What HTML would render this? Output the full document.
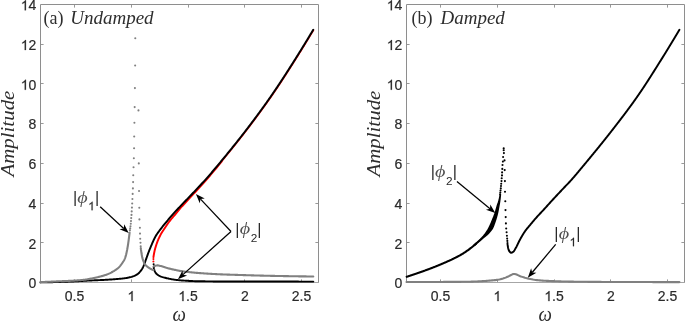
<!DOCTYPE html>
<html><head><meta charset="utf-8"><title>Amplitude vs omega</title>
<style>
html,body{margin:0;padding:0;background:#fff;}
body{width:685px;height:321px;overflow:hidden;font-family:"Liberation Sans",sans-serif;}
svg{display:block;will-change:transform}
.tk{font-family:"Liberation Sans",sans-serif;font-size:14px;fill:#2a2a2a;stroke:#2a2a2a;stroke-width:0.2px}
.cm{font-family:"Liberation Serif",serif;font-size:18px;fill:#2e2e2e}
.cmi{font-family:"Liberation Serif",serif;font-style:italic;font-size:18px;fill:#2e2e2e}
.om{font-size:19px}
.yl{font-size:19.8px}
.phs{font-family:"Liberation Sans",sans-serif;font-size:16.2px;fill:#2a2a2a}
.phsub{font-family:"Liberation Sans",sans-serif;font-size:11.8px;fill:#2a2a2a}
.phi{font-family:"Liberation Serif",serif;font-style:italic;font-size:16.5px;fill:#505050}
</style></head>
<body>
<svg width="685" height="321" viewBox="0 0 685 321">
<rect width="685" height="321" fill="#fff"/>
<g>
<path d="M40.5 282.5 V4.5 H318.5 V282.5" fill="none" stroke="#8e8e8e" stroke-width="1" stroke-linecap="square"/>
<path d="M40.0 282.5 H319.0" fill="none" stroke="#a6a6a6" stroke-width="1"/>
<path d="M74.50 282.00 v-2.60 M74.50 5.00 v2.60" stroke="#999999" stroke-width="1"/>
<text x="64.82" y="301.10" class="tk">0.5</text>
<path d="M131.50 282.00 v-2.60 M131.50 5.00 v2.60" stroke="#999999" stroke-width="1"/>
<path transform="translate(127.41 301.10) scale(0.00684)" d="M763 0 L583 0 L583 -1147 Q518 -1085 412.5 -1023 Q307 -961 223 -930 L223 -1104 Q374 -1175 487 -1276 Q600 -1377 647 -1472 L763 -1472 Z" fill="#2a2a2a" stroke="#2a2a2a" stroke-width="32"/>
<path d="M188.50 282.00 v-2.60 M188.50 5.00 v2.60" stroke="#999999" stroke-width="1"/>
<path transform="translate(178.32 301.10) scale(0.00684)" d="M763 0 L583 0 L583 -1147 Q518 -1085 412.5 -1023 Q307 -961 223 -930 L223 -1104 Q374 -1175 487 -1276 Q600 -1377 647 -1472 L763 -1472 Z" fill="#2a2a2a" stroke="#2a2a2a" stroke-width="32"/><text x="186.10" y="301.10" class="tk">.5</text>
<path d="M244.50 282.00 v-2.60 M244.50 5.00 v2.60" stroke="#999999" stroke-width="1"/>
<text x="240.91" y="301.10" class="tk">2</text>
<path d="M301.50 282.00 v-2.60 M301.50 5.00 v2.60" stroke="#999999" stroke-width="1"/>
<text x="291.82" y="301.10" class="tk">2.5</text>
<text x="28.52" y="288.35" class="tk">0</text>
<path d="M41.00 242.50 h2.60 M318.00 242.50 h-2.60" stroke="#999999" stroke-width="1"/>
<text x="28.52" y="248.64" class="tk">2</text>
<path d="M41.00 203.50 h2.60 M318.00 203.50 h-2.60" stroke="#999999" stroke-width="1"/>
<text x="28.52" y="208.92" class="tk">4</text>
<path d="M41.00 163.50 h2.60 M318.00 163.50 h-2.60" stroke="#999999" stroke-width="1"/>
<text x="28.52" y="169.21" class="tk">6</text>
<path d="M41.00 123.50 h2.60 M318.00 123.50 h-2.60" stroke="#999999" stroke-width="1"/>
<text x="28.52" y="129.49" class="tk">8</text>
<path d="M41.00 83.50 h2.60 M318.00 83.50 h-2.60" stroke="#999999" stroke-width="1"/>
<path transform="translate(20.73 89.78) scale(0.00684)" d="M763 0 L583 0 L583 -1147 Q518 -1085 412.5 -1023 Q307 -961 223 -930 L223 -1104 Q374 -1175 487 -1276 Q600 -1377 647 -1472 L763 -1472 Z" fill="#2a2a2a" stroke="#2a2a2a" stroke-width="32"/><text x="28.52" y="89.78" class="tk">0</text>
<path d="M41.00 44.50 h2.60 M318.00 44.50 h-2.60" stroke="#999999" stroke-width="1"/>
<path transform="translate(20.73 50.06) scale(0.00684)" d="M763 0 L583 0 L583 -1147 Q518 -1085 412.5 -1023 Q307 -961 223 -930 L223 -1104 Q374 -1175 487 -1276 Q600 -1377 647 -1472 L763 -1472 Z" fill="#2a2a2a" stroke="#2a2a2a" stroke-width="32"/><text x="28.52" y="50.06" class="tk">2</text>
<path transform="translate(20.73 10.35) scale(0.00684)" d="M763 0 L583 0 L583 -1147 Q518 -1085 412.5 -1023 Q307 -961 223 -930 L223 -1104 Q374 -1175 487 -1276 Q600 -1377 647 -1472 L763 -1472 Z" fill="#2a2a2a" stroke="#2a2a2a" stroke-width="32"/><text x="28.52" y="10.35" class="tk">4</text>
<path d="M153.45 257.20 L153.53 256.60 L153.62 256.00 L153.71 255.41 L153.81 254.81 L153.91 254.22 L154.02 253.62 L154.13 253.03 L154.25 252.44 L154.37 251.85 L154.49 251.27 L154.63 250.68 L154.77 250.09 L154.92 249.51 L155.07 248.93 L155.23 248.34 L155.40 247.76 L155.57 247.18 L155.75 246.60 L155.93 246.03 L156.11 245.45 L156.30 244.88 L156.49 244.31 L156.68 243.74 L156.88 243.17 L157.08 242.61 L157.29 242.04 L157.51 241.48 L157.73 240.92 L157.96 240.36 L158.19 239.80 L158.43 239.24 L158.67 238.69 L158.92 238.13 L159.18 237.59 L159.43 237.04 L159.70 236.50 L159.96 235.96 L160.23 235.42 L160.51 234.89 L160.79 234.37 L161.09 233.84 L161.39 233.32 L161.70 232.81 L162.02 232.30 L162.34 231.79 L162.67 231.28 L163.00 230.77 L163.34 230.27 L163.67 229.76 L164.01 229.26 L164.35 228.76 L164.68 228.26 L165.01 227.75 L165.34 227.25 L165.68 226.75 L166.01 226.25 L166.35 225.74 L166.69 225.24 L167.03 224.75 L167.37 224.25 L167.71 223.75 L168.06 223.26 L168.41 222.77 L168.77 222.28 L169.12 221.80 L169.48 221.32 L169.85 220.84 L170.22 220.37 L170.59 219.89 L170.97 219.42 L171.35 218.96 L171.73 218.49 L172.12 218.03 L172.51 217.57 L172.90 217.11 L173.29 216.65 L173.69 216.20 L174.09 215.75 L174.50 215.30 L180.99 207.46 L181.66 206.72 L182.33 205.99 L183.01 205.25 L183.69 204.51 L184.37 203.78 L185.05 203.04 L185.74 202.30 L186.42 201.56 L187.10 200.83 L187.78 200.09 L188.47 199.35 L189.15 198.62 L189.83 197.88 L190.51 197.14 L191.20 196.41 L191.88 195.67 L192.56 194.93 L193.25 194.20 L193.93 193.46 L194.61 192.72 L195.29 191.98 L195.97 191.24 L196.65 190.50 L197.33 189.76 L198.01 189.02 L198.69 188.28 L199.36 187.54 L200.04 186.80 L200.72 186.05 L201.40 185.31 L202.08 184.57 L202.75 183.82 L203.42 183.07 L204.10 182.32 L204.77 181.57 L205.43 180.82 L206.10 180.06 L206.76 179.31 L207.42 178.55 L208.08 177.79 L208.73 177.02 L209.39 176.26 L210.04 175.50 L210.69 174.73 L211.34 173.96 L211.99 173.19 L212.64 172.42 L213.28 171.65 L213.93 170.88 L214.57 170.11 L215.21 169.34 L215.85 168.56 L216.49 167.79 L217.13 167.01 L217.77 166.24 L218.41 165.46 L219.05 164.69 L219.68 163.91 L220.32 163.13 L220.96 162.36 L221.59 161.58" fill="none" stroke="#ff0000" stroke-width="1.95" stroke-linecap="round" stroke-linejoin="round"/>
<path d="M215.80 168.52 L216.45 167.75 L217.10 166.98 L217.74 166.21 L218.38 165.44 L219.03 164.67 L219.67 163.90 L220.31 163.13 L220.95 162.35 L221.59 161.58 L222.23 160.81 L222.87 160.03 L223.51 159.26 L224.15 158.48 L224.79 157.71 L225.43 156.93 L226.06 156.15 L226.70 155.38 L227.34 154.60 L227.97 153.82 L228.61 153.04 L229.24 152.26 L229.88 151.48 L230.51 150.70 L231.14 149.92 L231.78 149.14 L232.41 148.36 L233.04 147.58 L233.67 146.80 L234.30 146.01 L234.93 145.23 L235.55 144.44 L236.18 143.66 L236.81 142.87 L237.43 142.09 L238.06 141.30 L238.68 140.51 L239.31 139.73 L239.93 138.94 L240.55 138.15 L241.17 137.36 L241.79 136.57 L242.41 135.78 L243.03 134.99 L243.65 134.19 L244.26 133.40 L244.88 132.61 L245.49 131.81 L246.11 131.02 L246.72 130.22 L247.33 129.43 L247.94 128.63 L248.55 127.83 L249.16 127.03 L249.77 126.24 L250.38 125.44 L250.98 124.64 L251.59 123.84 L252.19 123.03 L252.80 122.23 L253.40 121.43 L254.00 120.63 L254.61 119.82 L255.21 119.02 L255.81 118.21 L256.41 117.41 L257.01 116.60 L257.60 115.79 L258.20 114.98 L258.80 114.17 L259.39 113.36 L259.99 112.55 L260.58 111.74 L261.17 110.93 L261.76 110.12 L262.35 109.30 L262.94 108.49 L263.53 107.67 L264.12 106.86 L264.71 106.04 L265.29 105.22 L265.88 104.41 L266.46 103.59 L267.04 102.77 L267.62 101.95 L268.20 101.13 L268.78 100.31 L269.36 99.49 L269.93 98.66 L270.51 97.84 L271.08 97.02 L271.66 96.19 L272.23 95.37 L272.80 94.54 L273.37 93.71 L273.93 92.88 L274.50 92.05 L275.06 91.22 L275.63 90.39 L276.19 89.56 L276.75 88.73 L277.31 87.89 L277.87 87.06 L278.43 86.22 L278.98 85.39 L279.54 84.55 L280.09 83.71 L280.65 82.87 L281.20 82.04 L281.75 81.20 L282.30 80.35 L282.85 79.51 L283.40 78.67 L283.95 77.83 L284.50 76.99 L285.04 76.14 L285.59 75.30 L286.13 74.45 L286.68 73.61 L287.22 72.76 L287.76 71.92 L288.30 71.07 L288.84 70.23 L289.39 69.38 L289.93 68.53 L290.47 67.68 L291.00 66.84 L291.54 65.99 L292.08 65.14 L292.62 64.29 L293.16 63.44 L293.69 62.60 L294.23 61.75 L294.77 60.90 L295.30 60.05 L295.84 59.20 L296.37 58.35 L296.91 57.50 L297.44 56.65 L297.98 55.80 L298.51 54.95 L299.04 54.10 L299.57 53.25 L300.10 52.39 L300.63 51.54 L301.16 50.69 L301.69 49.83 L302.22 48.98 L302.75 48.12 L303.27 47.27 L303.80 46.41 L304.32 45.56 L304.85 44.70 L305.37 43.84 L305.90 42.99 L306.42 42.13 L306.94 41.27 L307.46 40.41 L307.98 39.55 L308.50 38.69 L309.02 37.84 L309.54 36.98 L310.06 36.11 L310.58 35.25 L311.10 34.39 L311.61 33.53 L312.13 32.67 L312.64 31.81 L313.16 30.94 L313.67 30.08" fill="none" stroke="#ff0000" stroke-width="1.30" stroke-linecap="round" stroke-linejoin="round"/>
<circle cx="153.40" cy="259.10" r="1.05" fill="#ff0000"/><circle cx="153.40" cy="261.50" r="1.05" fill="#ff0000"/>
<path d="M40.50 282.40 L41.50 282.39 L42.51 282.38 L43.51 282.36 L44.52 282.35 L45.52 282.33 L46.52 282.31 L47.53 282.29 L48.53 282.27 L49.54 282.25 L50.54 282.22 L51.54 282.20 L52.55 282.17 L53.55 282.15 L54.55 282.12 L55.56 282.09 L56.56 282.06 L57.56 282.03 L58.57 282.00 L59.57 281.97 L60.57 281.93 L61.58 281.90 L62.58 281.87 L63.58 281.83 L64.59 281.80 L65.59 281.76 L66.59 281.72 L67.60 281.69 L68.60 281.65 L69.60 281.61 L70.61 281.58 L71.61 281.53 L72.61 281.49 L73.61 281.44 L74.62 281.39 L75.62 281.33 L76.62 281.27 L77.62 281.22 L78.63 281.16 L79.63 281.09 L80.63 281.03 L81.63 280.97 L82.63 280.91 L83.64 280.85 L84.64 280.79 L85.64 280.73 L86.64 280.67 L87.65 280.62 L88.65 280.56 L89.65 280.52 L90.65 280.47 L91.66 280.43 L92.66 280.39 L93.66 280.35 L94.67 280.31 L95.67 280.28 L96.67 280.24 L97.68 280.20 L98.68 280.15 L99.68 280.11 L100.68 280.06 L101.69 280.01 L102.69 279.96 L103.69 279.91 L104.70 279.86 L105.70 279.80 L106.70 279.75 L107.70 279.69 L108.70 279.63 L109.71 279.57 L110.71 279.50 L111.71 279.44 L112.71 279.37 L113.71 279.30 L114.71 279.23 L115.72 279.15 L116.72 279.07 L117.72 278.98 L118.72 278.89 L119.72 278.80 L120.72 278.71 L121.72 278.60 L122.72 278.49 L123.71 278.37 L124.71 278.24 L125.70 278.10 L126.69 277.93 L127.68 277.75 L128.68 277.55 L129.66 277.32 L130.63 277.08 L131.59 276.82 L132.54 276.53 L133.50 276.19 L134.45 275.81 L135.38 275.39 L136.28 274.92 L137.12 274.42 L137.91 273.86 L138.67 273.20 L139.40 272.47 L140.08 271.70 L140.71 270.92 L141.29 270.12 L141.84 269.28 L142.36 268.41 L142.85 267.52 L143.30 266.62 L143.71 265.72 L144.09 264.79 L144.44 263.85 L144.78 262.91 L145.11 261.95 L145.44 261.00 L145.77 260.05 L146.11 259.10 L146.44 258.15 L146.78 257.21 L147.11 256.26 L147.44 255.31 L147.78 254.37 L148.13 253.43 L148.48 252.49 L148.84 251.55 L149.21 250.61 L149.58 249.68 L149.95 248.75 L150.33 247.82 L150.72 246.89 L151.11 245.97 L151.50 245.04 L151.90 244.12 L152.29 243.19 L152.69 242.26 L153.10 241.34 L153.52 240.42 L153.94 239.51 L154.38 238.61 L154.83 237.72 L155.30 236.84 L155.79 235.97 L156.30 235.12 L156.85 234.28 L157.41 233.45 L157.99 232.63 L158.58 231.81 L159.19 231.01 L159.80 230.20 L160.41 229.40 L161.02 228.60 L161.63 227.80 L162.24 227.00 L162.86 226.21 L163.48 225.43 L164.11 224.64 L164.74 223.86 L165.38 223.09 L166.02 222.31 L166.66 221.54 L167.31 220.77 L167.95 220.00 L168.61 219.24 L169.26 218.48 L169.92 217.72 L170.58 216.96 L171.24 216.21 L171.91 215.46 L172.57 214.71 L173.24 213.96 L173.91 213.21 L174.58 212.46 L175.25 211.72 L175.93 210.97 L176.61 210.23 L177.29 209.49 L177.97 208.76 L178.65 208.02 L179.33 207.29 L180.02 206.55 L180.71 205.82 L181.40 205.10 L182.09 204.37 L182.79 203.65 L183.49 202.92 L184.18 202.20 L184.88 201.48 L185.58 200.75 L186.27 200.03 L186.97 199.30 L187.66 198.58 L188.36 197.86 L189.05 197.13 L189.75 196.41 L190.44 195.68 L191.14 194.96 L191.83 194.23 L192.52 193.51 L193.21 192.78 L193.91 192.05 L194.60 191.32 L195.29 190.59 L195.97 189.86 L196.66 189.13 L197.35 188.40 L198.04 187.67 L198.73 186.94 L199.42 186.21 L200.11 185.48 L200.79 184.74 L201.47 184.01 L202.16 183.27 L202.84 182.53 L203.52 181.79 L204.19 181.05 L204.87 180.31 L205.54 179.56 L206.20 178.81 L206.87 178.06 L207.53 177.31 L208.20 176.55 L208.86 175.80 L209.52 175.04 L210.17 174.28 L210.83 173.52 L211.48 172.76 L212.14 172.00 L212.79 171.23 L213.44 170.47 L214.09 169.70 L214.74 168.93 L215.38 168.17 L216.03 167.40 L216.67 166.63 L217.32 165.86 L217.96 165.09 L218.60 164.32 L219.24 163.55 L219.89 162.77 L220.53 162.00 L221.17 161.23 L221.81 160.46 L222.45 159.68 L223.09 158.91 L223.73 158.13 L224.36 157.36 L225.00 156.58 L225.64 155.81 L226.28 155.03 L226.91 154.25 L227.55 153.47 L228.18 152.70 L228.82 151.92 L229.45 151.14 L230.08 150.36 L230.72 149.58 L231.35 148.80 L231.98 148.02 L232.61 147.23 L233.24 146.45 L233.87 145.67 L234.50 144.89 L235.12 144.10 L235.75 143.32 L236.38 142.53 L237.00 141.75 L237.63 140.96 L238.25 140.17 L238.87 139.38 L239.50 138.60 L240.12 137.81 L240.74 137.02 L241.36 136.23 L241.98 135.44 L242.59 134.65 L243.21 133.86 L243.83 133.06 L244.44 132.27 L245.06 131.48 L245.67 130.68 L246.28 129.89 L246.89 129.09 L247.50 128.30 L248.11 127.50 L248.72 126.70 L249.33 125.90 L249.94 125.10 L250.54 124.30 L251.15 123.50 L251.75 122.70 L252.36 121.90 L252.96 121.10 L253.56 120.30 L254.17 119.49 L254.77 118.69 L255.37 117.88 L255.97 117.08 L256.56 116.27 L257.16 115.46 L257.76 114.66 L258.35 113.85 L258.95 113.04 L259.54 112.23 L260.14 111.42 L260.73 110.60 L261.32 109.79 L261.91 108.98 L262.50 108.17 L263.09 107.35 L263.67 106.54 L264.26 105.72 L264.84 104.90 L265.43 104.09 L266.01 103.27 L266.59 102.45 L267.17 101.63 L267.75 100.81 L268.33 99.99 L268.91 99.17 L269.48 98.35 L270.06 97.53 L270.63 96.70 L271.20 95.88 L271.77 95.05 L272.34 94.23 L272.91 93.40 L273.48 92.57 L274.04 91.74 L274.61 90.92 L275.17 90.08 L275.73 89.25 L276.30 88.42 L276.85 87.59 L277.41 86.75 L277.97 85.92 L278.53 85.08 L279.08 84.25 L279.64 83.41 L280.19 82.57 L280.74 81.73 L281.29 80.89 L281.84 80.05 L282.39 79.21 L282.94 78.37 L283.49 77.53 L284.03 76.69 L284.58 75.84 L285.12 75.00 L285.67 74.16 L286.21 73.31 L286.76 72.47 L287.30 71.62 L287.84 70.78 L288.38 69.93 L288.92 69.08 L289.46 68.24 L290.00 67.39 L290.54 66.54 L291.08 65.69 L291.62 64.85 L292.15 64.00 L292.69 63.15 L293.23 62.30 L293.77 61.45 L294.30 60.61 L294.84 59.76 L295.37 58.91 L295.91 58.06 L296.44 57.21 L296.98 56.36 L297.51 55.51 L298.04 54.66 L298.57 53.81 L299.10 52.96 L299.64 52.10 L300.16 51.25 L300.69 50.40 L301.22 49.54 L301.75 48.69 L302.28 47.84 L302.80 46.98 L303.33 46.13 L303.85 45.27 L304.38 44.41 L304.90 43.56 L305.43 42.70 L305.95 41.84 L306.47 40.99 L306.99 40.13 L307.51 39.27 L308.03 38.41 L308.55 37.55 L309.07 36.69 L309.59 35.83 L310.11 34.97 L310.62 34.11 L311.14 33.25 L311.66 32.39 L312.17 31.53 L312.69 30.66 L313.20 29.80" fill="none" stroke="#000" stroke-width="1.95" stroke-linecap="round" stroke-linejoin="round" />
<circle cx="153.65" cy="264.30" r="1.05" fill="#000"/>
<path d="M153.70 266.50 L153.78 267.35 L153.91 268.18 L154.08 268.99 L154.27 269.78 L154.54 270.58 L154.88 271.38 L155.28 272.15 L155.72 272.87 L156.19 273.49 L156.73 274.05 L157.37 274.58 L158.08 275.07 L158.83 275.52 L159.60 275.93 L160.35 276.28 L161.10 276.59 L161.88 276.87 L162.67 277.13 L163.48 277.37 L164.29 277.60 L165.11 277.81 L165.93 278.01 L166.74 278.20 L167.55 278.39 L168.36 278.57 L169.18 278.75 L170.00 278.91 L170.82 279.07 L171.64 279.21 L172.46 279.35 L173.29 279.48 L174.11 279.61 L174.93 279.72 L175.76 279.84 L176.59 279.95 L177.42 280.05 L178.25 280.14 L179.08 280.22 L179.91 280.29 L180.74 280.36 L181.57 280.42 L182.40 280.48 L183.23 280.54 L184.06 280.60 L184.89 280.65 L185.73 280.71 L186.56 280.76 L187.39 280.82 L188.22 280.87 L189.06 280.91 L189.89 280.96 L190.72 281.00 L191.56 281.04 L192.39 281.08 L193.22 281.12 L194.06 281.15 L194.89 281.18 L195.73 281.21 L196.56 281.24 L197.39 281.26 L198.23 281.27 L199.06 281.29 L199.89 281.30 L200.73 281.31 L201.56 281.32 L202.39 281.32 L203.23 281.33 L204.06 281.34 L204.89 281.34 L205.73 281.35 L206.56 281.36 L207.40 281.36 L208.23 281.37 L209.06 281.38 L209.90 281.38 L210.73 281.39 L211.56 281.39 L212.40 281.40 L213.23 281.40 L214.07 281.41 L214.90 281.41 L215.73 281.42 L216.57 281.42 L217.40 281.43 L218.24 281.43 L219.07 281.43 L219.90 281.44 L220.74 281.44 L221.57 281.45 L222.41 281.45 L223.24 281.45 L224.07 281.46 L224.91 281.46 L225.74 281.46 L226.58 281.46 L227.41 281.47 L228.24 281.47 L229.08 281.47 L229.91 281.47 L230.75 281.48 L231.58 281.48 L232.41 281.48 L233.25 281.48 L234.08 281.49 L234.92 281.49 L235.75 281.49 L236.58 281.49 L237.42 281.49 L238.25 281.50 L239.09 281.50 L239.92 281.50 L240.75 281.50 L241.59 281.50 L242.42 281.51 L243.25 281.51 L244.09 281.51 L244.92 281.51 L245.76 281.51 L246.59 281.51 L247.42 281.52 L248.26 281.52 L249.09 281.52 L249.93 281.52 L250.76 281.52 L251.59 281.53 L252.43 281.53 L253.26 281.53 L254.10 281.53 L254.93 281.53 L255.76 281.53 L256.60 281.54 L257.43 281.54 L258.26 281.54 L259.10 281.54 L259.93 281.54 L260.77 281.54 L261.60 281.55 L262.43 281.55 L263.27 281.55 L264.10 281.55 L264.94 281.55 L265.77 281.55 L266.60 281.55 L267.44 281.56 L268.27 281.56 L269.10 281.56 L269.94 281.56 L270.77 281.56 L271.61 281.56 L272.44 281.56 L273.27 281.57 L274.11 281.57 L274.94 281.57 L275.78 281.57 L276.61 281.57 L277.44 281.57 L278.28 281.57 L279.11 281.57 L279.95 281.58 L280.78 281.58 L281.61 281.58 L282.45 281.58 L283.28 281.58 L284.11 281.58 L284.95 281.58 L285.78 281.58 L286.62 281.58 L287.45 281.58 L288.28 281.59 L289.12 281.59 L289.95 281.59 L290.79 281.59 L291.62 281.59 L292.45 281.59 L293.29 281.59 L294.12 281.59 L294.95 281.59 L295.79 281.59 L296.62 281.59 L297.46 281.59 L298.29 281.59 L299.12 281.60 L299.96 281.60 L300.79 281.60 L301.63 281.60 L302.46 281.60 L303.29 281.60 L304.13 281.60 L304.96 281.60 L305.80 281.60 L306.63 281.60 L307.46 281.60 L308.30 281.60 L309.13 281.60 L309.96 281.60 L310.80 281.60 L311.63 281.60 L312.47 281.60 L313.30 281.60" fill="none" stroke="#000" stroke-width="1.95" stroke-linecap="round" stroke-linejoin="round" />
<path d="M40.50 282.10 L41.09 282.08 L41.69 282.05 L42.28 282.03 L42.87 282.00 L43.46 281.98 L44.06 281.96 L44.65 281.93 L45.24 281.91 L45.84 281.88 L46.43 281.86 L47.02 281.83 L47.62 281.81 L48.21 281.78 L48.80 281.76 L49.39 281.73 L49.99 281.71 L50.58 281.68 L51.17 281.66 L51.77 281.63 L52.36 281.60 L52.95 281.58 L53.54 281.55 L54.14 281.53 L54.73 281.50 L55.32 281.47 L55.92 281.45 L56.51 281.42 L57.10 281.40 L57.69 281.37 L58.29 281.34 L58.88 281.32 L59.47 281.29 L60.07 281.27 L60.66 281.24 L61.25 281.22 L61.85 281.19 L62.44 281.17 L63.03 281.15 L63.63 281.12 L64.22 281.10 L64.81 281.07 L65.41 281.05 L66.00 281.02 L66.59 281.00 L67.18 280.97 L67.78 280.94 L68.37 280.92 L68.96 280.89 L69.56 280.86 L70.15 280.83 L70.74 280.80 L71.33 280.77 L71.93 280.74 L72.52 280.71 L73.11 280.68 L73.70 280.64 L74.30 280.61 L74.89 280.57 L75.48 280.53 L76.07 280.50 L76.66 280.46 L77.25 280.41 L77.85 280.37 L78.44 280.32 L79.03 280.28 L79.62 280.23 L80.21 280.17 L80.81 280.12 L81.40 280.06 L81.99 280.00 L82.58 279.94 L83.17 279.88 L83.76 279.81 L84.35 279.74 L84.94 279.67 L85.52 279.60 L86.11 279.52 L86.70 279.42 L87.28 279.32 L87.87 279.22 L88.45 279.10 L89.03 278.99 L89.61 278.87 L90.20 278.76 L90.78 278.65 L91.36 278.53 L91.94 278.42 L92.53 278.30 L93.11 278.18 L93.69 278.06 L94.27 277.94 L94.85 277.81 L95.43 277.68 L96.01 277.55 L96.59 277.42 L97.17 277.29 L97.74 277.15 L98.32 277.01 L98.89 276.87 L99.47 276.72 L100.05 276.57 L100.62 276.42 L101.20 276.27 L101.78 276.12 L102.35 275.96 L102.93 275.80 L103.50 275.63 L104.07 275.46 L104.64 275.29 L105.20 275.11 L105.76 274.92 L106.32 274.73 L106.88 274.53 L107.43 274.33 L107.98 274.11 L108.52 273.88 L109.06 273.64 L109.60 273.39 L110.14 273.13 L110.67 272.86 L111.20 272.58 L111.72 272.29 L112.24 272.00 L112.76 271.70 L113.27 271.40 L113.77 271.10 L114.27 270.78 L114.78 270.46 L115.28 270.14 L115.78 269.80 L116.27 269.46 L116.76 269.10 L117.23 268.74 L117.70 268.37 L118.15 267.99 L118.58 267.60 L119.00 267.20 L119.41 266.78 L119.81 266.35 L120.20 265.90 L120.58 265.43 L120.95 264.96 L121.31 264.48 L121.66 263.99 L122.00 263.50 L122.33 263.01 L122.65 262.52 L122.97 262.02 L123.29 261.51 L123.61 261.00 L123.91 260.48 L124.20 259.95 L124.47 259.42 L124.72 258.89 L124.94 258.35 L125.15 257.80 L125.34 257.25 L125.52 256.69 L125.69 256.12 L125.85 255.54 L126.01 254.97 L126.15 254.39 L126.29 253.80 L126.43 253.22 L126.56 252.64 L126.69 252.06 L126.81 251.48 L126.93 250.90 L127.04 250.32 L127.16 249.74 L127.26 249.15 L127.37 248.57 L127.47 247.99 L127.57 247.40 L127.67 246.81 L127.76 246.23 L127.86 245.64 L127.95 245.05 L128.04 244.47 L128.13 243.88 L128.22 243.29 L128.30 242.71 L128.39 242.12 L128.47 241.53 L128.55 240.94 L128.63 240.35 L128.71 239.77 L128.78 239.18 L128.86 238.59 L128.94 238.00 L129.01 237.41 L129.09 236.82 L129.16 236.23 L129.24 235.65 L129.31 235.06 L129.38 234.47 L129.46 233.88 L129.53 233.29 L129.60 232.70" fill="none" stroke="#808080" stroke-width="2.10" stroke-linecap="round" stroke-linejoin="round" />
<circle cx="129.90" cy="230.40" r="1.05" fill="#808080"/><circle cx="130.20" cy="228.40" r="1.05" fill="#808080"/><circle cx="130.50" cy="226.30" r="1.05" fill="#808080"/><circle cx="130.80" cy="223.80" r="1.05" fill="#808080"/><circle cx="131.00" cy="221.10" r="1.05" fill="#808080"/><circle cx="131.20" cy="218.10" r="1.05" fill="#808080"/><circle cx="131.50" cy="214.90" r="1.05" fill="#808080"/><circle cx="131.70" cy="211.40" r="1.05" fill="#808080"/><circle cx="131.95" cy="207.60" r="1.05" fill="#808080"/><circle cx="132.20" cy="203.50" r="1.05" fill="#808080"/><circle cx="132.40" cy="199.00" r="1.05" fill="#808080"/><circle cx="132.66" cy="193.90" r="1.05" fill="#808080"/><circle cx="132.90" cy="188.40" r="1.05" fill="#808080"/><circle cx="133.10" cy="182.10" r="1.05" fill="#808080"/><circle cx="133.25" cy="175.20" r="1.05" fill="#808080"/><circle cx="133.55" cy="167.30" r="1.05" fill="#808080"/><circle cx="133.85" cy="158.30" r="1.05" fill="#808080"/><circle cx="134.08" cy="148.20" r="1.05" fill="#808080"/><circle cx="134.20" cy="136.50" r="1.05" fill="#808080"/><circle cx="134.40" cy="122.80" r="1.05" fill="#808080"/><circle cx="134.67" cy="107.10" r="1.05" fill="#808080"/><circle cx="134.90" cy="88.10" r="1.05" fill="#808080"/><circle cx="135.15" cy="65.50" r="1.05" fill="#808080"/><circle cx="135.27" cy="38.30" r="1.05" fill="#808080"/>
<circle cx="138.46" cy="110.40" r="1.05" fill="#808080"/><circle cx="138.80" cy="163.40" r="1.05" fill="#808080"/><circle cx="139.05" cy="191.00" r="1.05" fill="#808080"/><circle cx="139.30" cy="207.80" r="1.05" fill="#808080"/><circle cx="139.40" cy="219.40" r="1.05" fill="#808080"/><circle cx="139.90" cy="227.70" r="1.05" fill="#808080"/><circle cx="140.00" cy="233.60" r="1.05" fill="#808080"/><circle cx="140.20" cy="238.70" r="1.05" fill="#808080"/><circle cx="140.50" cy="242.80" r="1.05" fill="#808080"/><circle cx="140.70" cy="246.30" r="1.05" fill="#808080"/>
<path d="M140.80 248.10 L140.81 248.24 L140.83 248.37 L140.84 248.51 L140.86 248.64 L140.88 248.78 L140.89 248.91 L140.91 249.05 L140.92 249.19 L140.94 249.32 L140.96 249.46 L140.97 249.59 L140.99 249.73 L141.01 249.86 L141.02 250.00 L141.04 250.13 L141.06 250.27 L141.08 250.40 L141.09 250.54 L141.11 250.68 L141.13 250.81 L141.15 250.95 L141.17 251.08 L141.19 251.22 L141.21 251.35 L141.23 251.49 L141.24 251.62 L141.26 251.76 L141.28 251.89 L141.30 252.03 L141.32 252.16 L141.34 252.30 L141.36 252.43 L141.38 252.57 L141.40 252.70 L141.42 252.84 L141.45 252.97 L141.47 253.11 L141.49 253.24 L141.51 253.38 L141.53 253.51 L141.55 253.65 L141.57 253.78 L141.59 253.92 L141.61 254.05 L141.64 254.19 L141.66 254.32 L141.68 254.46 L141.70 254.60 L141.73 254.73 L141.75 254.86 L141.77 255.00 L141.80 255.13 L141.82 255.27 L141.84 255.40 L141.87 255.54 L141.89 255.67 L141.92 255.81 L141.94 255.94 L141.97 256.07 L142.00 256.21 L142.02 256.34 L142.05 256.48 L142.08 256.61 L142.11 256.74 L142.14 256.87 L142.16 257.01 L142.19 257.14 L142.22 257.27 L142.25 257.40 L142.28 257.54 L142.32 257.67 L142.35 257.80 L142.38 257.93 L142.42 258.06 L142.45 258.19 L142.49 258.33 L142.52 258.46 L142.56 258.59 L142.60 258.72 L142.64 258.85 L142.68 258.98 L142.72 259.11 L142.76 259.25 L142.80 259.38 L142.84 259.51 L142.89 259.64 L142.93 259.77 L142.98 259.90 L143.02 260.03 L143.07 260.16 L143.12 260.29 L143.16 260.41 L143.21 260.54 L143.26 260.67 L143.31 260.80 L143.36 260.93 L143.41 261.05 L143.46 261.18 L143.51 261.31 L143.56 261.43 L143.61 261.56 L143.67 261.68 L143.72 261.81 L143.77 261.93 L143.82 262.06 L143.88 262.18 L143.94 262.31 L143.99 262.43 L144.05 262.56 L144.11 262.68 L144.17 262.81 L144.23 262.93 L144.29 263.06 L144.36 263.18 L144.42 263.30 L144.49 263.43 L144.55 263.55 L144.62 263.67 L144.69 263.79 L144.76 263.91 L144.83 264.02 L144.91 264.14 L144.98 264.25 L145.05 264.36 L145.13 264.47 L145.21 264.58 L145.29 264.68 L145.37 264.79 L145.45 264.89 L145.53 264.99 L145.62 265.09 L145.71 265.19 L145.80 265.29 L145.89 265.39 L145.99 265.49 L146.08 265.58 L146.18 265.68 L146.28 265.78 L146.38 265.87 L146.48 265.96 L146.59 266.06 L146.69 266.15 L146.80 266.24 L146.90 266.33 L147.01 266.42 L147.12 266.51 L147.23 266.60 L147.34 266.68 L147.45 266.77 L147.56 266.85 L147.67 266.94 L147.78 267.02 L147.89 267.10 L148.00 267.18 L148.12 267.26 L148.23 267.34 L148.34 267.42 L148.45 267.50 L148.56 267.58 L148.68 267.65 L148.79 267.72 L148.90 267.80 L149.01 267.87 L149.12 267.94 L149.24 268.02 L149.35 268.09 L149.47 268.16 L149.58 268.23 L149.70 268.30 L149.81 268.37 L149.93 268.44 L150.05 268.51 L150.16 268.58 L150.28 268.64 L150.40 268.71 L150.52 268.78 L150.64 268.84 L150.76 268.91 L150.88 268.97 L151.00 269.03 L151.12 269.10 L151.24 269.16 L151.37 269.22 L151.49 269.28 L151.61 269.34 L151.74 269.40 L151.86 269.46 L151.99 269.52 L152.11 269.57 L152.24 269.63 L152.37 269.69 L152.49 269.74 L152.62 269.79 L152.75 269.85 L152.88 269.90 L153.01 269.95 L153.14 270.00 L153.27 270.05 L153.40 270.10" fill="none" stroke="#808080" stroke-width="2.10" stroke-linecap="round" stroke-linejoin="round" />
<path d="M154.00 266.40 L154.71 265.99 L155.46 265.71 L156.24 265.54 L157.05 265.42 L157.85 265.41 L158.64 265.51 L159.43 265.69 L160.22 265.90 L161.00 266.10 L161.78 266.31 L162.55 266.55 L163.31 266.81 L164.08 267.08 L164.84 267.34 L165.60 267.59 L166.38 267.82 L167.15 268.03 L167.93 268.24 L168.71 268.45 L169.49 268.64 L170.27 268.84 L171.06 269.03 L171.84 269.21 L172.63 269.39 L173.42 269.56 L174.21 269.73 L174.99 269.90 L175.78 270.06 L176.57 270.22 L177.36 270.39 L178.15 270.54 L178.95 270.70 L179.74 270.85 L180.53 270.99 L181.33 271.13 L182.12 271.26 L182.92 271.38 L183.71 271.49 L184.51 271.59 L185.31 271.69 L186.11 271.79 L186.91 271.89 L187.71 271.98 L188.51 272.07 L189.31 272.15 L190.11 272.24 L190.91 272.32 L191.72 272.40 L192.52 272.47 L193.32 272.55 L194.13 272.62 L194.93 272.69 L195.73 272.76 L196.54 272.83 L197.34 272.89 L198.14 272.96 L198.95 273.02 L199.75 273.08 L200.55 273.14 L201.36 273.20 L202.16 273.26 L202.96 273.32 L203.77 273.37 L204.57 273.43 L205.38 273.48 L206.18 273.54 L206.98 273.59 L207.79 273.64 L208.59 273.69 L209.40 273.74 L210.20 273.79 L211.01 273.84 L211.81 273.88 L212.61 273.93 L213.42 273.97 L214.22 274.02 L215.03 274.06 L215.83 274.10 L216.64 274.14 L217.44 274.18 L218.25 274.22 L219.05 274.26 L219.86 274.29 L220.66 274.33 L221.47 274.36 L222.27 274.40 L223.08 274.43 L223.88 274.46 L224.69 274.49 L225.49 274.52 L226.30 274.55 L227.10 274.58 L227.91 274.61 L228.71 274.64 L229.52 274.67 L230.33 274.69 L231.13 274.72 L231.94 274.75 L232.74 274.77 L233.55 274.80 L234.35 274.82 L235.16 274.85 L235.96 274.87 L236.77 274.90 L237.57 274.92 L238.38 274.95 L239.19 274.97 L239.99 275.00 L240.80 275.02 L241.60 275.05 L242.41 275.07 L243.21 275.10 L244.02 275.12 L244.82 275.15 L245.63 275.17 L246.43 275.20 L247.24 275.22 L248.04 275.25 L248.85 275.27 L249.66 275.29 L250.46 275.32 L251.27 275.34 L252.07 275.36 L252.88 275.39 L253.68 275.41 L254.49 275.43 L255.29 275.45 L256.10 275.47 L256.90 275.50 L257.71 275.52 L258.52 275.54 L259.32 275.56 L260.13 275.58 L260.93 275.60 L261.74 275.62 L262.54 275.64 L263.35 275.66 L264.15 275.68 L264.96 275.70 L265.77 275.72 L266.57 275.74 L267.38 275.75 L268.18 275.77 L268.99 275.79 L269.79 275.81 L270.60 275.83 L271.40 275.85 L272.21 275.86 L273.02 275.88 L273.82 275.90 L274.63 275.91 L275.43 275.93 L276.24 275.95 L277.04 275.96 L277.85 275.98 L278.66 276.00 L279.46 276.01 L280.27 276.03 L281.07 276.04 L281.88 276.06 L282.68 276.07 L283.49 276.09 L284.29 276.10 L285.10 276.12 L285.91 276.13 L286.71 276.15 L287.52 276.16 L288.32 276.17 L289.13 276.19 L289.93 276.20 L290.74 276.21 L291.55 276.22 L292.35 276.24 L293.16 276.25 L293.96 276.26 L294.77 276.27 L295.57 276.28 L296.38 276.30 L297.19 276.31 L297.99 276.32 L298.80 276.33 L299.60 276.34 L300.41 276.35 L301.21 276.36 L302.02 276.37 L302.83 276.38 L303.63 276.39 L304.44 276.40 L305.24 276.41 L306.05 276.42 L306.85 276.43 L307.66 276.44 L308.47 276.45 L309.27 276.46 L310.08 276.47 L310.88 276.48 L311.69 276.48 L312.49 276.49 L313.30 276.50" fill="none" stroke="#808080" stroke-width="2.10" stroke-linecap="round" stroke-linejoin="round" />
</g>
<g>
<path d="M406.5 282.5 V4.5 H684.5 V282.5" fill="none" stroke="#8e8e8e" stroke-width="1" stroke-linecap="square"/>
<path d="M406.0 282.5 H685.0" fill="none" stroke="#a6a6a6" stroke-width="1"/>
<path d="M440.50 282.00 v-2.60 M440.50 5.00 v2.60" stroke="#999999" stroke-width="1"/>
<text x="430.82" y="301.10" class="tk">0.5</text>
<path d="M497.50 282.00 v-2.60 M497.50 5.00 v2.60" stroke="#999999" stroke-width="1"/>
<path transform="translate(493.41 301.10) scale(0.00684)" d="M763 0 L583 0 L583 -1147 Q518 -1085 412.5 -1023 Q307 -961 223 -930 L223 -1104 Q374 -1175 487 -1276 Q600 -1377 647 -1472 L763 -1472 Z" fill="#2a2a2a" stroke="#2a2a2a" stroke-width="32"/>
<path d="M554.50 282.00 v-2.60 M554.50 5.00 v2.60" stroke="#999999" stroke-width="1"/>
<path transform="translate(544.32 301.10) scale(0.00684)" d="M763 0 L583 0 L583 -1147 Q518 -1085 412.5 -1023 Q307 -961 223 -930 L223 -1104 Q374 -1175 487 -1276 Q600 -1377 647 -1472 L763 -1472 Z" fill="#2a2a2a" stroke="#2a2a2a" stroke-width="32"/><text x="552.10" y="301.10" class="tk">.5</text>
<path d="M610.50 282.00 v-2.60 M610.50 5.00 v2.60" stroke="#999999" stroke-width="1"/>
<text x="606.91" y="301.10" class="tk">2</text>
<path d="M667.50 282.00 v-2.60 M667.50 5.00 v2.60" stroke="#999999" stroke-width="1"/>
<text x="657.82" y="301.10" class="tk">2.5</text>
<text x="394.52" y="288.35" class="tk">0</text>
<path d="M407.00 242.50 h2.60 M684.00 242.50 h-2.60" stroke="#999999" stroke-width="1"/>
<text x="394.52" y="248.64" class="tk">2</text>
<path d="M407.00 203.50 h2.60 M684.00 203.50 h-2.60" stroke="#999999" stroke-width="1"/>
<text x="394.52" y="208.92" class="tk">4</text>
<path d="M407.00 163.50 h2.60 M684.00 163.50 h-2.60" stroke="#999999" stroke-width="1"/>
<text x="394.52" y="169.21" class="tk">6</text>
<path d="M407.00 123.50 h2.60 M684.00 123.50 h-2.60" stroke="#999999" stroke-width="1"/>
<text x="394.52" y="129.49" class="tk">8</text>
<path d="M407.00 83.50 h2.60 M684.00 83.50 h-2.60" stroke="#999999" stroke-width="1"/>
<path transform="translate(386.73 89.78) scale(0.00684)" d="M763 0 L583 0 L583 -1147 Q518 -1085 412.5 -1023 Q307 -961 223 -930 L223 -1104 Q374 -1175 487 -1276 Q600 -1377 647 -1472 L763 -1472 Z" fill="#2a2a2a" stroke="#2a2a2a" stroke-width="32"/><text x="394.52" y="89.78" class="tk">0</text>
<path d="M407.00 44.50 h2.60 M684.00 44.50 h-2.60" stroke="#999999" stroke-width="1"/>
<path transform="translate(386.73 50.06) scale(0.00684)" d="M763 0 L583 0 L583 -1147 Q518 -1085 412.5 -1023 Q307 -961 223 -930 L223 -1104 Q374 -1175 487 -1276 Q600 -1377 647 -1472 L763 -1472 Z" fill="#2a2a2a" stroke="#2a2a2a" stroke-width="32"/><text x="394.52" y="50.06" class="tk">2</text>
<path transform="translate(386.73 10.35) scale(0.00684)" d="M763 0 L583 0 L583 -1147 Q518 -1085 412.5 -1023 Q307 -961 223 -930 L223 -1104 Q374 -1175 487 -1276 Q600 -1377 647 -1472 L763 -1472 Z" fill="#2a2a2a" stroke="#2a2a2a" stroke-width="32"/><text x="394.52" y="10.35" class="tk">4</text>
<path d="M406.50 282.00 L407.88 282.00 L409.26 282.00 L410.65 282.00 L412.03 282.00 L413.41 282.00 L414.79 282.00 L416.17 281.99 L417.56 281.99 L418.94 281.99 L420.32 281.99 L421.70 281.99 L423.08 281.98 L424.47 281.98 L425.85 281.98 L427.23 281.97 L428.61 281.97 L429.99 281.97 L431.38 281.96 L432.76 281.96 L434.14 281.96 L435.52 281.95 L436.90 281.95 L438.28 281.94 L439.67 281.94 L441.05 281.93 L442.43 281.93 L443.81 281.92 L445.19 281.92 L446.58 281.91 L447.96 281.91 L449.34 281.90 L450.72 281.90 L452.10 281.89 L453.49 281.88 L454.87 281.87 L456.25 281.86 L457.63 281.85 L459.01 281.84 L460.40 281.83 L461.78 281.81 L463.16 281.80 L464.54 281.78 L465.92 281.76 L467.31 281.74 L468.69 281.72 L470.07 281.70 L471.45 281.67 L472.83 281.63 L474.21 281.57 L475.59 281.51 L476.97 281.45 L478.35 281.37 L479.73 281.29 L481.11 281.21 L482.49 281.13 L483.87 281.04 L485.25 280.96 L486.63 280.87 L488.01 280.77 L489.39 280.65 L490.76 280.53 L492.14 280.40 L493.52 280.25 L494.89 280.09 L496.26 279.91 L497.62 279.70 L498.98 279.46 L500.34 279.18 L501.69 278.87 L503.02 278.52 L504.34 278.11 L505.63 277.62 L506.91 277.08 L508.17 276.52 L509.40 275.88 L510.62 275.21 L511.87 274.64 L513.18 274.07 L514.50 273.93 L515.83 274.33 L517.14 274.82 L518.42 275.35 L519.68 275.92 L520.97 276.41 L522.27 276.87 L523.59 277.31 L524.91 277.72 L526.24 278.10 L527.58 278.43 L528.92 278.74 L530.27 279.04 L531.63 279.32 L532.99 279.57 L534.36 279.79 L535.73 279.97 L537.10 280.11 L538.47 280.25 L539.84 280.37 L541.22 280.48 L542.60 280.59 L543.98 280.68 L545.37 280.77 L546.75 280.84 L548.13 280.92 L549.51 280.98 L550.89 281.04 L552.27 281.09 L553.65 281.15 L555.03 281.20 L556.41 281.25 L557.79 281.30 L559.17 281.34 L560.56 281.39 L561.94 281.43 L563.32 281.47 L564.70 281.51 L566.08 281.54 L567.46 281.57 L568.85 281.60 L570.23 281.63 L571.61 281.65 L572.99 281.67 L574.37 281.69 L575.76 281.71 L577.14 281.72 L578.52 281.74 L579.90 281.75 L581.28 281.77 L582.66 281.78 L584.05 281.79 L585.43 281.81 L586.81 281.82 L588.19 281.83 L589.57 281.84 L590.96 281.85 L592.34 281.86 L593.72 281.87 L595.10 281.88 L596.48 281.89 L597.87 281.90 L599.25 281.91 L600.63 281.92 L602.01 281.93 L603.39 281.93 L604.78 281.94 L606.16 281.95 L607.54 281.95 L608.92 281.96 L610.30 281.97 L611.69 281.97 L613.07 281.98 L614.45 281.98 L615.83 281.99 L617.21 281.99 L618.59 282.00 L619.98 282.00 L621.36 282.00 L622.74 282.01 L624.12 282.01 L625.50 282.01 L626.89 282.02 L628.27 282.02 L629.65 282.03 L631.03 282.03 L632.41 282.03 L633.80 282.04 L635.18 282.04 L636.56 282.04 L637.94 282.05 L639.32 282.05 L640.71 282.05 L642.09 282.06 L643.47 282.06 L644.85 282.06 L646.23 282.06 L647.62 282.07 L649.00 282.07 L650.38 282.07 L651.76 282.07 L653.14 282.08 L654.53 282.08 L655.91 282.08 L657.29 282.08 L658.67 282.08 L660.05 282.09 L661.43 282.09 L662.82 282.09 L664.20 282.09 L665.58 282.09 L666.96 282.09 L668.34 282.10 L669.73 282.10 L671.11 282.10 L672.49 282.10 L673.87 282.10 L675.25 282.10 L676.64 282.10 L678.02 282.10 L679.40 282.10" fill="none" stroke="#808080" stroke-width="2.10" stroke-linecap="round" stroke-linejoin="round" />
<path d="M406.70 276.80 L407.07 276.68 L407.44 276.56 L407.81 276.44 L408.18 276.33 L408.55 276.21 L408.92 276.09 L409.29 275.97 L409.66 275.85 L410.03 275.72 L410.40 275.60 L410.77 275.48 L411.14 275.36 L411.51 275.24 L411.88 275.12 L412.25 274.99 L412.61 274.87 L412.98 274.75 L413.35 274.62 L413.72 274.50 L414.09 274.37 L414.46 274.25 L414.82 274.12 L415.19 274.00 L415.56 273.87 L415.93 273.75 L416.29 273.62 L416.66 273.49 L417.03 273.37 L417.40 273.24 L417.76 273.11 L418.13 272.98 L418.50 272.86 L418.86 272.73 L419.23 272.60 L419.60 272.47 L419.96 272.34 L420.33 272.21 L420.70 272.08 L421.06 271.95 L421.43 271.82 L421.79 271.69 L422.16 271.56 L422.52 271.43 L422.89 271.29 L423.25 271.16 L423.62 271.03 L423.98 270.90 L424.35 270.76 L424.71 270.63 L425.08 270.50 L425.44 270.36 L425.81 270.23 L426.17 270.09 L426.54 269.96 L426.90 269.83 L427.27 269.69 L427.63 269.55 L428.00 269.42 L428.36 269.28 L428.72 269.15 L429.09 269.01 L429.45 268.87 L429.82 268.73 L430.18 268.60 L430.54 268.46 L430.91 268.32 L431.27 268.18 L431.63 268.04 L431.99 267.90 L432.36 267.76 L432.72 267.62 L433.08 267.48 L433.44 267.34 L433.81 267.19 L434.17 267.05 L434.53 266.91 L434.89 266.77 L435.25 266.62 L435.61 266.48 L435.97 266.33 L436.33 266.19 L436.70 266.04 L437.06 265.90 L437.42 265.75 L437.77 265.61 L438.13 265.46 L438.49 265.31 L438.85 265.16 L439.21 265.01 L439.57 264.86 L439.93 264.71 L440.29 264.56 L440.64 264.41 L441.00 264.26 L441.36 264.11 L441.72 263.96 L442.07 263.81 L442.43 263.66 L442.79 263.50 L443.15 263.35 L443.50 263.20 L443.86 263.04 L444.22 262.89 L444.58 262.73 L444.93 262.58 L445.29 262.42 L445.65 262.27 L446.00 262.11 L446.36 261.95 L446.71 261.80 L447.07 261.64 L447.43 261.48 L447.78 261.32 L448.14 261.16 L448.49 261.00 L448.84 260.84 L449.20 260.68 L449.55 260.52 L449.91 260.35 L450.26 260.19 L450.61 260.03 L450.96 259.86 L451.32 259.70 L451.67 259.53 L452.02 259.36 L452.37 259.20 L452.72 259.03 L453.07 258.86 L453.42 258.69 L453.77 258.52 L454.12 258.35 L454.47 258.18 L454.81 258.01 L455.16 257.83 L455.51 257.66 L455.85 257.48 L456.20 257.31 L456.54 257.13 L456.89 256.95 L457.23 256.78 L457.58 256.60 L457.92 256.41 L458.26 256.23 L458.61 256.05 L458.95 255.86 L459.29 255.68 L459.63 255.49 L459.97 255.30 L460.31 255.11 L460.65 254.91 L460.99 254.72 L461.32 254.53 L461.66 254.33 L462.00 254.13 L462.33 253.93 L462.66 253.73 L462.99 253.53 L463.32 253.32 L463.65 253.12 L463.98 252.91 L464.31 252.70 L464.63 252.49 L464.96 252.28 L465.28 252.07 L465.60 251.85 L465.92 251.63 L466.24 251.41 L466.56 251.19 L466.88 250.96 L467.20 250.74 L467.52 250.51 L467.83 250.29 L468.15 250.06 L468.46 249.83 L468.77 249.59 L469.09 249.36 L469.40 249.13 L469.71 248.89 L470.02 248.66 L470.33 248.42 L470.63 248.18 L470.94 247.95 L471.25 247.71 L471.55 247.47 L471.85 247.23 L472.16 246.98 L472.46 246.74 L472.76 246.49 L473.06 246.25 L473.36 246.00 L473.65 245.75 L473.95 245.50 L474.25 245.24 L474.54 244.99 L474.83 244.73 L475.13 244.48 L475.42 244.22 L475.71 243.96 L476.00 243.70" fill="none" stroke="#000" stroke-width="2.10" stroke-linecap="round" stroke-linejoin="round" />
<path d="M474.67 246.20 L474.90 246.01 L475.13 245.82 L475.36 245.63 L475.59 245.44 L475.82 245.24 L476.05 245.05 L476.27 244.85 L476.50 244.65 L476.73 244.46 L476.95 244.26 L477.18 244.07 L477.40 243.87 L477.63 243.68 L477.86 243.48 L478.08 243.29 L478.31 243.09 L478.54 242.90 L478.76 242.70 L478.99 242.51 L479.22 242.31 L479.44 242.12 L479.67 241.92 L479.90 241.72 L480.12 241.53 L480.35 241.33 L480.58 241.13 L480.80 240.94 L481.03 240.74 L481.25 240.54 L481.48 240.34 L481.70 240.14 L481.93 239.94 L482.15 239.74 L482.38 239.54 L482.60 239.34 L482.82 239.14 L483.04 238.94 L483.27 238.75 L483.49 238.55 L483.72 238.36 L483.95 238.17 L484.18 237.98 L484.42 237.79 L484.65 237.60 L484.89 237.41 L485.13 237.22 L485.37 237.03 L485.61 236.84 L485.85 236.65 L486.09 236.45 L486.33 236.26 L486.57 236.06 L486.80 235.86 L487.04 235.66 L487.28 235.45 L487.51 235.25 L487.75 235.04 L487.98 234.82 L488.20 234.60 L488.43 234.38 L488.65 234.16 L488.86 233.93 L489.08 233.71 L489.29 233.49 L489.50 233.26 L489.72 233.04 L489.93 232.81 L490.14 232.58 L490.36 232.34 L490.57 232.10 L490.78 231.86 L490.98 231.62 L491.19 231.37 L491.39 231.12 L491.59 230.87 L491.79 230.61 L491.98 230.35 L492.17 230.09 L492.35 229.82 L492.53 229.55 L492.70 229.27 L492.86 228.99 L493.02 228.70 L493.17 228.41 L493.32 228.12 L493.46 227.82 L493.60 227.53 L493.73 227.23 L493.85 226.94 L493.98 226.64 L494.09 226.35 L494.21 226.06 L494.32 225.76 L494.43 225.47 L494.54 225.18 L494.64 224.89 L494.74 224.60 L494.84 224.32 L494.94 224.04 L495.04 223.75 L495.14 223.48 L495.24 223.20 L495.34 222.92 L495.44 222.63 L495.54 222.35 L495.64 222.07 L495.73 221.78 L495.83 221.50 L495.93 221.21 L496.02 220.93 L496.12 220.64 L496.21 220.35 L496.30 220.06 L496.40 219.77 L496.49 219.48 L496.58 219.20 L496.67 218.90 L496.76 218.61 L496.85 218.32 L496.93 218.03 L497.02 217.74 L497.10 217.45 L497.19 217.15 L497.27 216.86 L497.35 216.56 L497.43 216.27 L497.51 215.98 L497.59 215.68 L497.67 215.38 L497.75 215.09 L497.82 214.79 L497.90 214.49 L497.97 214.20 L498.04 213.90 L498.11 213.60 L498.18 213.30 L498.25 213.00 L498.31 212.71 L498.38 212.41 L498.44 212.11 L498.50 211.81 L498.56 211.52 L498.62 211.22 L498.68 210.92 L498.74 210.63 L498.79 210.33 L498.85 210.04 L498.91 209.74 L498.96 209.45 L499.02 209.15 L499.07 208.86 L499.12 208.56 L499.18 208.27 L499.23 207.98 L499.28 207.69 L499.33 207.40 L499.39 207.10 L499.44 206.81 L499.49 206.52 L499.54 206.23 L499.60 205.94 L499.65 205.65 L499.70 205.37 L499.76 205.08 L499.81 204.80 L499.86 204.51 L499.91 204.22 L499.97 203.93 L500.02 203.63 L500.07 203.33 L500.12 203.02 L500.17 202.72 L500.22 202.41 L500.27 202.10 L500.32 201.79 L500.36 201.48 L500.40 201.19 L500.44 200.89 L500.48 200.59 L500.52 200.30 L500.56 200.00 L500.60 199.70 L500.64 199.40 L500.68 199.10 L500.72 198.80 L500.75 198.50 L500.79 198.20 L500.82 197.90 L500.86 197.60 L500.89 197.30 L500.92 197.00 L500.95 196.70 L500.98 196.40 L501.01 196.09 L501.04 195.79 L501.07 195.49 L501.10 195.19 L501.12 194.88 L501.15 194.58 L499.45 194.42 L499.42 194.71 L499.38 195.00 L499.35 195.29 L499.30 195.58 L499.26 195.87 L499.21 196.16 L499.16 196.45 L499.11 196.74 L499.06 197.03 L499.00 197.32 L498.95 197.61 L498.89 197.89 L498.82 198.18 L498.76 198.47 L498.70 198.75 L498.63 199.04 L498.56 199.33 L498.49 199.61 L498.42 199.90 L498.35 200.18 L498.28 200.47 L498.21 200.76 L498.13 201.04 L498.06 201.32 L497.98 201.59 L497.90 201.86 L497.81 202.13 L497.71 202.40 L497.61 202.67 L497.51 202.94 L497.40 203.22 L497.30 203.50 L497.19 203.78 L497.09 204.07 L496.99 204.36 L496.89 204.65 L496.80 204.95 L496.71 205.23 L496.62 205.52 L496.53 205.81 L496.45 206.10 L496.36 206.39 L496.28 206.68 L496.20 206.97 L496.11 207.26 L496.03 207.54 L495.95 207.83 L495.87 208.12 L495.79 208.40 L495.71 208.69 L495.63 208.98 L495.55 209.26 L495.47 209.55 L495.39 209.83 L495.31 210.11 L495.23 210.39 L495.15 210.68 L495.06 210.96 L494.98 211.24 L494.90 211.51 L494.81 211.79 L494.73 212.07 L494.64 212.34 L494.55 212.62 L494.46 212.89 L494.37 213.16 L494.28 213.44 L494.18 213.71 L494.09 213.98 L493.99 214.25 L493.89 214.52 L493.79 214.79 L493.69 215.07 L493.59 215.34 L493.49 215.61 L493.38 215.88 L493.28 216.15 L493.17 216.42 L493.06 216.69 L492.95 216.96 L492.84 217.24 L492.74 217.51 L492.62 217.78 L492.51 218.05 L492.40 218.32 L492.29 218.59 L492.18 218.86 L492.06 219.13 L491.95 219.41 L491.84 219.68 L491.72 219.95 L491.61 220.22 L491.50 220.49 L491.38 220.77 L491.27 221.04 L491.16 221.31 L491.04 221.59 L490.93 221.86 L490.82 222.14 L490.70 222.42 L490.59 222.69 L490.48 222.97 L490.36 223.24 L490.25 223.51 L490.14 223.78 L490.03 224.04 L489.91 224.30 L489.80 224.56 L489.69 224.81 L489.57 225.07 L489.46 225.31 L489.34 225.56 L489.23 225.80 L489.11 226.04 L488.99 226.27 L488.87 226.50 L488.75 226.73 L488.63 226.96 L488.51 227.20 L488.38 227.44 L488.25 227.68 L488.13 227.92 L488.00 228.16 L487.86 228.40 L487.73 228.65 L487.59 228.89 L487.46 229.14 L487.32 229.39 L487.17 229.63 L487.03 229.88 L486.89 230.13 L486.74 230.37 L486.59 230.62 L486.43 230.86 L486.28 231.11 L486.12 231.35 L485.96 231.59 L485.81 231.82 L485.65 232.05 L485.49 232.27 L485.33 232.50 L485.17 232.73 L485.01 232.96 L484.84 233.19 L484.67 233.41 L484.50 233.64 L484.32 233.87 L484.14 234.10 L483.96 234.33 L483.78 234.56 L483.59 234.79 L483.40 235.01 L483.21 235.24 L483.02 235.46 L482.83 235.69 L482.63 235.91 L482.43 236.13 L482.23 236.36 L482.03 236.58 L481.82 236.79 L481.62 237.01 L481.41 237.23 L481.20 237.44 L480.99 237.65 L480.78 237.86 L480.57 238.06 L480.36 238.27 L480.15 238.48 L479.94 238.68 L479.73 238.89 L479.52 239.09 L479.30 239.29 L479.09 239.50 L478.88 239.70 L478.66 239.90 L478.44 240.10 L478.23 240.30 L478.01 240.50 L477.79 240.70 L477.57 240.90 L477.35 241.10 L477.13 241.30 L476.91 241.50 L476.69 241.70 L476.47 241.89 L476.24 242.09 L476.02 242.29 L475.80 242.48 L475.57 242.68 L475.35 242.87 L475.13 243.07 L474.91 243.26 L474.68 243.45 L474.46 243.64 L474.23 243.83 L474.01 244.02 L473.78 244.21 L473.55 244.40 L473.33 244.60 Z" fill="#000"/>
<circle cx="500.10" cy="194.30" r="1.05" fill="#000"/><circle cx="500.30" cy="192.50" r="1.05" fill="#000"/><circle cx="500.50" cy="190.50" r="1.05" fill="#000"/><circle cx="500.80" cy="188.40" r="1.05" fill="#000"/><circle cx="501.00" cy="186.00" r="1.05" fill="#000"/><circle cx="501.20" cy="183.70" r="1.05" fill="#000"/><circle cx="501.50" cy="181.10" r="1.05" fill="#000"/><circle cx="501.70" cy="178.30" r="1.05" fill="#000"/><circle cx="502.00" cy="175.40" r="1.05" fill="#000"/><circle cx="502.10" cy="172.40" r="1.05" fill="#000"/><circle cx="502.30" cy="168.90" r="1.05" fill="#000"/><circle cx="502.50" cy="165.00" r="1.05" fill="#000"/><circle cx="502.90" cy="161.60" r="1.05" fill="#000"/><circle cx="503.10" cy="157.00" r="1.05" fill="#000"/><circle cx="503.90" cy="153.10" r="1.05" fill="#000"/><circle cx="503.70" cy="150.30" r="1.05" fill="#000"/><circle cx="503.70" cy="148.40" r="1.05" fill="#000"/>
<circle cx="504.50" cy="160.40" r="1.05" fill="#000"/><circle cx="504.70" cy="170.10" r="1.05" fill="#000"/><circle cx="504.90" cy="181.10" r="1.05" fill="#000"/><circle cx="505.00" cy="191.70" r="1.05" fill="#000"/><circle cx="505.30" cy="201.20" r="1.05" fill="#000"/><circle cx="505.50" cy="210.10" r="1.05" fill="#000"/><circle cx="505.70" cy="217.10" r="1.05" fill="#000"/><circle cx="505.90" cy="223.40" r="1.05" fill="#000"/><circle cx="506.20" cy="228.50" r="1.05" fill="#000"/><circle cx="506.60" cy="232.30" r="1.05" fill="#000"/><circle cx="506.90" cy="235.80" r="1.05" fill="#000"/><circle cx="507.15" cy="238.60" r="1.05" fill="#000"/><circle cx="507.35" cy="240.90" r="1.05" fill="#000"/>
<path d="M507.50 242.90 L507.53 243.64 L507.58 244.38 L507.67 245.10 L507.77 245.83 L507.89 246.55 L508.02 247.26 L508.15 247.97 L508.32 248.70 L508.53 249.43 L508.78 250.14 L509.07 250.79 L509.42 251.38 L509.91 252.01 L510.51 252.54 L511.13 252.75 L511.81 252.59 L512.52 252.25 L513.15 251.84 L513.65 251.40 L514.10 250.85 L514.51 250.22 L514.89 249.56 L515.26 248.89 L515.63 248.24 L516.00 247.62 L516.35 246.98 L516.68 246.33 L517.01 245.68 L517.33 245.02 L517.65 244.36 L517.96 243.70 L518.28 243.04 L518.59 242.38 L518.91 241.72 L519.24 241.06 L519.57 240.41 L519.92 239.77 L520.27 239.13 L520.62 238.49 L520.98 237.85 L521.34 237.22 L521.70 236.58 L522.07 235.95 L522.44 235.31 L522.82 234.69 L523.20 234.06 L523.58 233.44 L523.98 232.83 L524.38 232.22 L524.78 231.62 L525.20 231.02 L525.62 230.43 L526.06 229.85 L526.50 229.27 L526.96 228.70 L527.42 228.13 L527.89 227.57 L528.36 227.01 L528.83 226.45 L529.31 225.89 L529.78 225.33 L530.25 224.77 L530.72 224.21 L531.19 223.65 L531.66 223.09 L532.12 222.53 L532.59 221.97 L533.06 221.41 L533.53 220.85 L534.01 220.30 L534.48 219.74 L534.96 219.19 L535.44 218.64 L535.92 218.09 L536.40 217.54 L536.89 217.00 L537.38 216.46 L537.87 215.92 L538.37 215.38 L538.86 214.85 L539.36 214.31 L539.86 213.78 L540.36 213.24 L540.86 212.71 L541.36 212.18 L541.86 211.64 L542.36 211.11 L542.85 210.58 L543.35 210.04 L543.85 209.51 L544.34 208.97 L544.84 208.43 L545.33 207.89 L545.82 207.35 L546.31 206.81 L546.80 206.27 L547.29 205.73 L547.78 205.19 L548.27 204.65 L548.76 204.10 L549.25 203.56 L549.74 203.02 L550.23 202.48 L550.72 201.94 L551.21 201.40 L551.70 200.86 L552.20 200.32 L552.69 199.78 L553.18 199.24 L553.68 198.71 L554.18 198.17 L554.67 197.63 L555.17 197.10 L555.67 196.57 L556.17 196.03 L556.67 195.50 L557.16 194.97 L557.66 194.43 L558.16 193.90 L558.66 193.37 L559.17 192.84 L559.67 192.31 L560.17 191.77 L560.67 191.24 L561.17 190.71 L561.67 190.18 L562.17 189.65 L562.67 189.12 L563.17 188.59 L563.68 188.06 L564.18 187.53 L564.69 187.00 L565.20 186.48 L565.70 185.95 L566.21 185.42 L566.71 184.90 L567.22 184.37 L567.73 183.84 L568.23 183.31 L568.73 182.78 L569.23 182.25 L569.73 181.72 L570.23 181.18 L570.72 180.64 L571.21 180.10 L571.69 179.56 L572.18 179.01 L572.66 178.47 L573.14 177.92 L573.62 177.37 L574.10 176.81 L574.58 176.26 L575.05 175.71 L575.52 175.15 L576.00 174.59 L576.47 174.03 L576.94 173.47 L577.41 172.91 L577.88 172.35 L578.34 171.79 L578.81 171.23 L579.28 170.67 L579.75 170.11 L580.21 169.55 L580.68 168.98 L581.15 168.42 L581.61 167.86 L582.08 167.30 L582.55 166.74 L583.02 166.18 L583.48 165.62 L583.95 165.06 L584.42 164.50 L584.88 163.93 L585.35 163.37 L585.82 162.81 L586.28 162.25 L586.75 161.69 L587.22 161.12 L587.68 160.56 L588.15 160.00 L588.61 159.44 L589.08 158.87 L589.54 158.31 L590.01 157.75 L590.47 157.18 L590.94 156.62 L591.40 156.06 L591.87 155.49 L592.33 154.93 L592.80 154.36 L593.26 153.80 L593.72 153.23 L594.19 152.67 L594.65 152.10 L595.11 151.54 L595.57 150.97 L596.04 150.41 L596.50 149.84 L596.96 149.27 L597.42 148.71 L597.88 148.14 L598.34 147.57 L598.80 147.01 L599.26 146.44 L599.72 145.87 L600.18 145.30 L600.64 144.74 L601.10 144.17 L601.56 143.60 L602.02 143.03 L602.47 142.46 L602.93 141.89 L603.39 141.32 L603.84 140.75 L604.30 140.18 L604.76 139.61 L605.21 139.04 L605.67 138.47 L606.12 137.90 L606.58 137.33 L607.03 136.75 L607.48 136.18 L607.94 135.61 L608.39 135.04 L608.84 134.46 L609.29 133.89 L609.74 133.32 L610.19 132.74 L610.64 132.17 L611.09 131.59 L611.54 131.02 L611.99 130.44 L612.44 129.86 L612.89 129.29 L613.33 128.71 L613.78 128.13 L614.23 127.56 L614.68 126.98 L615.12 126.40 L615.57 125.83 L616.02 125.25 L616.46 124.67 L616.91 124.09 L617.36 123.51 L617.80 122.94 L618.25 122.36 L618.70 121.78 L619.14 121.20 L619.59 120.62 L620.03 120.04 L620.48 119.46 L620.92 118.88 L621.36 118.30 L621.81 117.72 L622.25 117.13 L622.69 116.55 L623.13 115.97 L623.58 115.39 L624.02 114.81 L624.46 114.22 L624.90 113.64 L625.34 113.06 L625.78 112.47 L626.21 111.89 L626.65 111.30 L627.09 110.72 L627.53 110.13 L627.96 109.54 L628.40 108.96 L628.83 108.37 L629.27 107.78 L629.70 107.19 L630.13 106.61 L630.56 106.02 L631.00 105.43 L631.43 104.84 L631.86 104.25 L632.28 103.66 L632.71 103.06 L633.14 102.47 L633.57 101.88 L633.99 101.29 L634.42 100.69 L634.84 100.10 L635.26 99.50 L635.68 98.91 L636.10 98.31 L636.52 97.72 L636.94 97.12 L637.36 96.52 L637.78 95.92 L638.19 95.32 L638.61 94.72 L639.02 94.12 L639.43 93.52 L639.84 92.92 L640.25 92.32 L640.66 91.71 L641.07 91.11 L641.48 90.50 L641.89 89.90 L642.29 89.29 L642.70 88.68 L643.10 88.08 L643.51 87.47 L643.91 86.86 L644.31 86.25 L644.71 85.64 L645.11 85.03 L645.51 84.42 L645.91 83.81 L646.31 83.19 L646.71 82.58 L647.11 81.97 L647.50 81.36 L647.90 80.74 L648.30 80.13 L648.69 79.51 L649.09 78.90 L649.48 78.28 L649.87 77.67 L650.27 77.05 L650.66 76.43 L651.05 75.82 L651.44 75.20 L651.84 74.58 L652.23 73.97 L652.62 73.35 L653.01 72.73 L653.40 72.11 L653.79 71.49 L654.18 70.88 L654.57 70.26 L654.96 69.64 L655.34 69.02 L655.73 68.40 L656.12 67.78 L656.51 67.16 L656.90 66.54 L657.29 65.93 L657.67 65.31 L658.06 64.69 L658.45 64.07 L658.84 63.45 L659.23 62.83 L659.61 62.21 L660.00 61.59 L660.39 60.98 L660.78 60.36 L661.17 59.74 L661.55 59.12 L661.94 58.50 L662.33 57.88 L662.71 57.26 L663.10 56.64 L663.48 56.02 L663.87 55.40 L664.25 54.78 L664.64 54.16 L665.02 53.54 L665.41 52.92 L665.79 52.30 L666.18 51.68 L666.56 51.05 L666.94 50.43 L667.32 49.81 L667.71 49.19 L668.09 48.56 L668.47 47.94 L668.85 47.32 L669.23 46.70 L669.61 46.07 L669.99 45.45 L670.37 44.83 L670.75 44.20 L671.13 43.58 L671.51 42.95 L671.89 42.33 L672.27 41.70 L672.65 41.08 L673.02 40.45 L673.40 39.83 L673.78 39.20 L674.16 38.58 L674.53 37.95 L674.91 37.33 L675.28 36.70 L675.66 36.07 L676.04 35.45 L676.41 34.82 L676.79 34.19 L677.16 33.57 L677.53 32.94 L677.91 32.31 L678.28 31.68 L678.65 31.06 L679.03 30.43 L679.40 29.80" fill="none" stroke="#000" stroke-width="1.95" stroke-linecap="round" stroke-linejoin="round" />
</g>
<g class="ph"><text x="72.90" y="202.80" class="phs">|</text><text transform="translate(77.30 202.60) scale(1.22 1)" class="phi">ϕ</text><path transform="translate(88.20 210.20) scale(0.00576)" d="M763 0 L583 0 L583 -1147 Q518 -1085 412.5 -1023 Q307 -961 223 -930 L223 -1104 Q374 -1175 487 -1276 Q600 -1377 647 -1472 L763 -1472 Z" fill="#2a2a2a" stroke="#2a2a2a" stroke-width="38"/><text x="94.90" y="202.80" class="phs">|</text></g>
<path d="M100.20 206.70 L123.71 228.48" stroke="#000" stroke-width="1.25" fill="none"/><path d="M128.70 233.10 L119.53 229.31 L123.71 228.48 L124.22 224.25 Z" fill="#000"/>
<g class="ph"><text x="235.35" y="234.50" class="phs">|</text><text transform="translate(239.75 234.30) scale(1.22 1)" class="phi">ϕ</text><text x="250.65" y="241.90" class="phsub">2</text><text x="257.35" y="234.50" class="phs">|</text></g>
<path d="M231.00 231.50 L200.55 199.06" stroke="#000" stroke-width="1.25" fill="none"/><path d="M195.90 194.10 L204.78 198.52 L200.55 199.06 L199.75 203.24 Z" fill="#000"/>
<path d="M231.00 231.50 L182.96 274.66" stroke="#000" stroke-width="1.25" fill="none"/><path d="M177.90 279.20 L182.51 270.42 L182.96 274.66 L187.12 275.55 Z" fill="#000"/>
<g class="ph"><text x="430.70" y="177.10" class="phs">|</text><text transform="translate(435.10 176.90) scale(1.22 1)" class="phi">ϕ</text><text x="446.00" y="184.50" class="phsub">2</text><text x="452.70" y="177.10" class="phs">|</text></g>
<path d="M456.95 181.60 L490.04 208.69" stroke="#000" stroke-width="1.25" fill="none"/><path d="M495.30 213.00 L485.92 209.78 L490.04 208.69 L490.29 204.44 Z" fill="#000"/>
<g class="ph"><text x="554.30" y="238.80" class="phs">|</text><text transform="translate(558.70 238.60) scale(1.22 1)" class="phi">ϕ</text><path transform="translate(569.60 246.20) scale(0.00576)" d="M763 0 L583 0 L583 -1147 Q518 -1085 412.5 -1023 Q307 -961 223 -930 L223 -1104 Q374 -1175 487 -1276 Q600 -1377 647 -1472 L763 -1472 Z" fill="#2a2a2a" stroke="#2a2a2a" stroke-width="38"/><text x="576.30" y="238.80" class="phs">|</text></g>
<path d="M555.70 244.40 L532.17 272.49" stroke="#000" stroke-width="1.25" fill="none"/><path d="M527.80 277.70 L531.13 268.36 L532.17 272.49 L536.42 272.79 Z" fill="#000"/>
<text x="43.6" y="24" class="cm">(a)</text>
<text x="70.2" y="24" class="cmi" textLength="83.4" lengthAdjust="spacingAndGlyphs">Undamped</text>
<text x="411.4" y="24" class="cm">(b)</text>
<text x="440.6" y="24" class="cmi" textLength="64.2" lengthAdjust="spacingAndGlyphs">Damped</text>
<text transform="translate(13.80 176.6) rotate(-90)" class="cmi yl" textLength="86" lengthAdjust="spacingAndGlyphs">Amplitude</text>
<text transform="translate(179.10 321.2) scale(1 1.1)" text-anchor="middle" class="cmi om">ω</text>
<text transform="translate(379.80 176.6) rotate(-90)" class="cmi yl" textLength="86" lengthAdjust="spacingAndGlyphs">Amplitude</text>
<text transform="translate(545.10 321.2) scale(1 1.1)" text-anchor="middle" class="cmi om">ω</text>
</svg>
</body></html>
